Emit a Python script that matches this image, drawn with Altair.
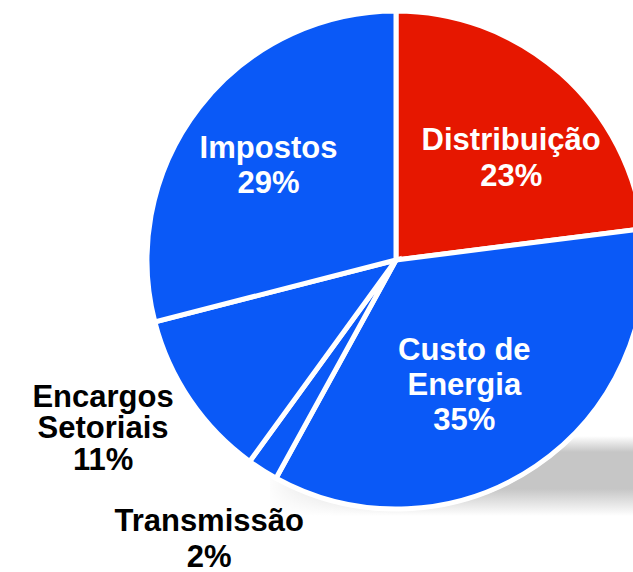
import altair as alt
import pandas as pd

# ---- data ----
categories = ["Distribuição", "Custo de Energia", "Transmissão", "Encargos Setoriais", "Impostos"]
values = [23, 35, 2, 11, 29]
label_names = ["Distribuição", "Custo de\nEnergia", "Transmissão", "Encargos\nSetoriais", "Impostos"]
slice_colors = ["#E61700", "#0A59F7", "#0A59F7", "#0A59F7", "#0A59F7"]

df = pd.DataFrame({
    "cat": categories,
    "value": values,
    "idx": list(range(len(categories))),
    "label": [f"{n}\n{v}%" for n, v in zip(label_names, values)],
})

CX, CY = 396, 260
FONT = "Liberation Sans"

base = (
    alt.Chart(df)
    .transform_window(end="sum(value)", sort=[alt.SortField("idx")], frame=[None, 0])
    .transform_calculate(start="datum.end - datum.value", mid="datum.end - datum.value / 2")
)

theta_scale = alt.Scale(domain=[0, 100])

# soft shadow under the pie (decoration)
shadow = base.transform_filter("datum.idx == 0").mark_rect(
    color=alt.LinearGradient(
        gradient="linear",
        stops=[
            alt.GradientStop(color="#ffffff", offset=0),
            alt.GradientStop(color="#c6c6c6", offset=0.2),
            alt.GradientStop(color="#c6c6c6", offset=0.66),
            alt.GradientStop(color="#ffffff", offset=1),
        ],
        x1=0, x2=0, y1=0, y2=1,
    )
).encode(x=alt.value(270), x2=alt.value(633), y=alt.value(436), y2=alt.value(516))

fade = base.transform_filter("datum.idx == 0").mark_rect(
    color=alt.LinearGradient(
        gradient="linear",
        stops=[
            alt.GradientStop(color="rgba(255,255,255,1)", offset=0),
            alt.GradientStop(color="rgba(255,255,255,0)", offset=1),
        ],
        x1=0, x2=1, y1=0, y2=0,
    )
).encode(x=alt.value(265), x2=alt.value(400), y=alt.value(430), y2=alt.value(520))

halo = base.mark_arc(outerRadius=251, color="white").encode(
    theta=alt.Theta("start:Q", scale=theta_scale),
    theta2="end:Q",
    x=alt.value(CX),
    y=alt.value(CY),
)

pie = base.mark_arc(outerRadius=249, stroke="white", strokeWidth=5).encode(
    theta=alt.Theta("start:Q", scale=theta_scale),
    theta2="end:Q",
    color=alt.Color("cat:N", scale=alt.Scale(domain=categories, range=slice_colors), legend=None),
    order=alt.Order("idx:Q"),
    x=alt.value(CX),
    y=alt.value(CY),
)

# label placement: (category, radius, dx, dy, colour, line height)
label_specs = [
    ("Distribuição", 150, 16, 2.5, "white", 36),
    ("Custo de Energia", 150, -16, -24, "white", 35),
    ("Impostos", 150, -9, -10, "white", 35),
    ("Transmissão", 330, -10, -7.5, "black", 36),
    ("Encargos Setoriais", 330, -20, -38.5, "black", 31.5),
]

texts = []
for cat, r, dx, dy, col, lh in label_specs:
    texts.append(
        base.transform_filter(alt.datum.cat == cat)
        .mark_text(
            radius=r, dx=dx, dy=dy, color=col, font=FONT, fontSize=31, fontWeight="bold",
            align="center", baseline="alphabetic", lineBreak="\n", lineHeight=lh,
        )
        .encode(
            theta=alt.Theta("mid:Q", scale=theta_scale),
            text="label:N",
            x=alt.value(CX),
            y=alt.value(CY),
        )
    )

chart = (
    alt.layer(shadow, fade, halo, pie, *texts)
    .properties(width=633, height=572, padding=0, autosize=alt.AutoSizeParams(type="none"), background="white")
    .configure_view(stroke=None)
)

chart.save("out.html", embed_options={"renderer": "svg", "actions": False})
